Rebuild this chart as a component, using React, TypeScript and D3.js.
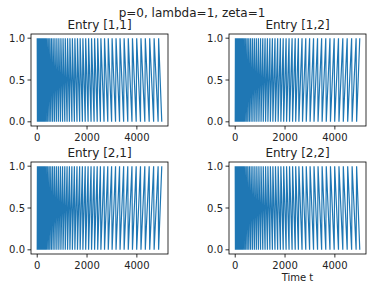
import React from 'react';
import * as d3 from 'd3';

// times (t) where the diagonal entries touch 1 and 0
const diagHighs = [0, 16, 33, 52, 73, 96, 121, 149, 180, 214, 251, 292, 338, 388, 443, 503, 568, 637, 710, 788, 868, 951, 1037, 1126, 1218, 1313, 1411, 1512, 1616, 1723, 1833, 1946, 2062, 2181, 2303, 2428, 2556, 2702, 2852, 3006, 3164, 3325, 3489, 3655, 3823, 3993, 4165, 4339, 4515, 4693, 4873];
const diagLows = [8, 24, 42, 62, 84, 108, 135, 164, 196, 230, 270, 315, 365, 420, 480, 545, 615, 690, 768, 848, 931, 1017, 1106, 1198, 1293, 1391, 1492, 1596, 1703, 1813, 1926, 2042, 2161, 2283, 2408, 2536, 2682, 2832, 2986, 3144, 3305, 3469, 3635, 3803, 3973, 4145, 4319, 4495, 4673, 4853, 5000];

// off-diagonal entries peak where the diagonal ones dip
const offHighs = diagLows;
const offLows = diagHighs;

const entries = ['Entry [1,1]', 'Entry [1,2]', 'Entry [2,1]', 'Entry [2,2]'];
const xTicks = [0, 2000, 4000];
const yTicks = [0, 0.5, 1];

const W = 372;
const H = 291;
const pw = 137;
const ph = 92;
const lefts = [31, 229];
const tops = [34, 162];
const blue = '#1f77b4';
const font = 'DejaVu Sans, sans-serif';

function series(highs: number[], lows: number[]) {
  const pts: [number, number][] = [];
  highs.forEach((t) => pts.push([t, 1]));
  lows.forEach((t) => pts.push([t, 0]));
  return pts.sort((a, b) => a[0] - b[0]);
}

const Panel = ({ title, data, left, top, xlabel }: any) => {
  const x = d3.scaleLinear().domain([-250, 5250]).range([left, left + pw]);
  const y = d3.scaleLinear().domain([-0.05, 1.05]).range([top + ph, top]);
  const line = d3.line<[number, number]>().x((d) => x(d[0])).y((d) => y(d[1]));
  return (
    <g>
      <path d={line(data) || ''} fill="none" stroke={blue} strokeWidth={1.2} />
      <rect x={left} y={top} width={pw} height={ph} fill="none" stroke="#000" strokeWidth={0.8} />
      {xTicks.map((t) => (
        <g key={'x' + t}>
          <line x1={x(t)} x2={x(t)} y1={top + ph} y2={top + ph + 3.5} stroke="#000" strokeWidth={0.8} />
          <text x={x(t)} y={top + ph + 14.5} textAnchor="middle" fontSize={10} fontFamily={font} fill="#222">
            {t}
          </text>
        </g>
      ))}
      {yTicks.map((t) => (
        <g key={'y' + t}>
          <line x1={left - 3.5} x2={left} y1={y(t)} y2={y(t)} stroke="#000" strokeWidth={0.8} />
          <text x={left - 6} y={y(t) + 3.6} textAnchor="end" fontSize={10} fontFamily={font} fill="#222">
            {t.toFixed(1)}
          </text>
        </g>
      ))}
      <text x={left + pw / 2} y={top - 5} textAnchor="middle" fontSize={12} fontFamily={font} fill="#222">
        {title}
      </text>
      {xlabel && (
        <text x={left + pw / 2} y={top + ph + 27} textAnchor="middle" fontSize={10} fontFamily={font} fill="#222">
          {xlabel}
        </text>
      )}
    </g>
  );
};

export default function App() {
  const diag = series(diagHighs, diagLows);
  const off = series(offHighs, offLows);
  const datas = [diag, off, off, diag];
  return (
    <svg width={W} height={H} style={{ position: 'absolute', left: 0, top: 0, background: '#fff' }}>
      <text x={192} y={17} textAnchor="middle" fontSize={12} fontFamily={font} fill="#222">
        p=0, lambda=1, zeta=1
      </text>
      {entries.map((e, i) => (
        <Panel
          key={e}
          title={e}
          data={datas[i]}
          left={lefts[i % 2]}
          top={tops[Math.floor(i / 2)]}
          xlabel={i === 3 ? 'Time t' : null}
        />
      ))}
    </svg>
  );
}
